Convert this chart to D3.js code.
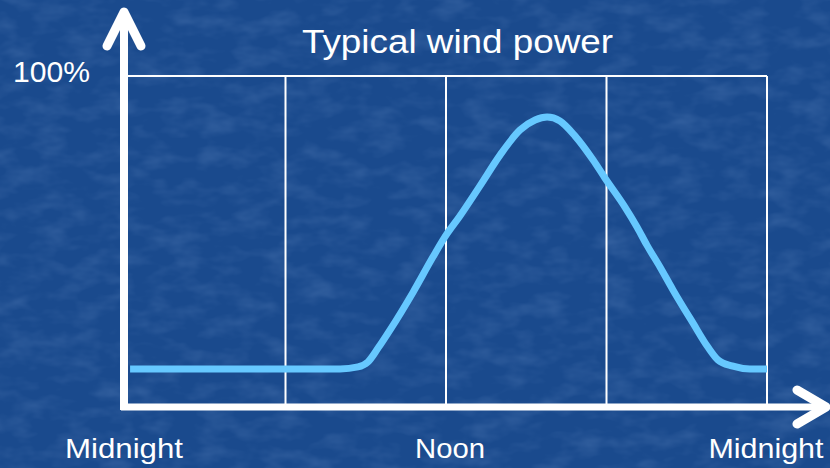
<!DOCTYPE html>
<html>
<head>
<meta charset="utf-8">
<script src="https://cdn.jsdelivr.net/npm/d3@7"></script>
<style>
  html, body { margin: 0; padding: 0; background: #1c4f96; }
  svg { display: block; font-family: 'Liberation Sans', Arial, sans-serif; }
</style>
</head>
<body>
<div id="chart"></div>
<script>
// hours since midnight and wind output in % of max
const hours = [0.19, 4.0, 8.04, 8.71, 9.08, 9.46, 9.91, 10.77, 11.51, 11.96, 12.52, 13.27, 14.02, 14.77, 15.33,
  15.78, 16.26, 16.82, 17.5, 17.94, 18.69, 19.14, 19.51, 20.0, 20.49, 21.23, 21.79, 22.17, 22.69, 23.36, 24.0]
const power = [11.5, 11.5, 11.5, 12.1, 13.6, 17.8, 23.3, 34.7, 45.3, 51.4, 57.7, 66.8, 76.1, 83.7, 86.7,
  87.6, 86.4, 81.9, 74.6, 69.2, 60.4, 54.4, 48.9, 42.3, 35.3, 25.4, 18.1, 14.2, 12.4, 11.5, 11.5]
const gridHours = [6, 12, 18, 24]
const timeLabels = [
  { h: 0, text: 'Midnight', len: 118, dx: -1 },
  { h: 12, text: 'Noon', len: 70, dx: 4 },
  { h: 24, text: 'Midnight', len: 115, dx: -1 }
]
const title = 'Typical wind power'
const topLabel = '100%'

const width = 830
const height = 468

const x = d3.scaleLinear().domain([0, 24]).range([125, 767])
const y = d3.scaleLinear().domain([0, 100]).range([407, 76])

const svg = d3.select('#chart').append('svg')
  .attr('width', width)
  .attr('height', height)

// mottled blue backdrop
const defs = svg.append('defs')
const tex = defs.append('filter').attr('id', 'tex')
  .attr('x', 0).attr('y', 0).attr('width', '100%').attr('height', '100%')
tex.append('feTurbulence')
  .attr('type', 'fractalNoise')
  .attr('baseFrequency', '0.03 0.06')
  .attr('numOctaves', 3)
  .attr('seed', 7)
tex.append('feColorMatrix')
  .attr('type', 'matrix')
  .attr('values', '0 0 0 0 0.5  0 0 0 0 0.68  0 0 0 0 1  0 0 0 1.2 -0.5')

svg.append('rect').attr('width', width).attr('height', height).attr('fill', '#1a4a8d')
svg.append('rect').attr('width', width).attr('height', height)
  .attr('filter', 'url(#tex)').attr('opacity', 0.22)

// box + vertical grid lines
svg.append('line')
  .attr('x1', x(0)).attr('x2', x(24))
  .attr('y1', y(100)).attr('y2', y(100))
  .attr('stroke', '#fff').attr('stroke-width', 2)

svg.append('g')
  .selectAll('line')
  .data(gridHours)
  .enter().append('line')
  .attr('x1', d => x(d)).attr('x2', d => x(d))
  .attr('y1', y(100)).attr('y2', y(0))
  .attr('stroke', '#fff')
  .attr('stroke-width', 2)

// the curve
const line = d3.line()
  .x((d, i) => x(hours[i]))
  .y(d => y(d))
  .curve(d3.curveMonotoneX)

svg.append('path')
  .datum(power)
  .attr('d', line)
  .attr('fill', 'none')
  .attr('stroke', '#66c8ff')
  .attr('stroke-width', 7)
  .attr('stroke-linejoin', 'round')

// axes with arrow heads
const x0 = x(0)
const yb = y(0)
const axis = svg.append('g')
  .attr('stroke', '#fff')
  .attr('fill', 'none')
  .attr('stroke-linecap', 'round')
  .attr('stroke-linejoin', 'round')

axis.append('line')
  .attr('x1', x0 - 1).attr('x2', x0 - 1)
  .attr('y1', yb + 3).attr('y2', 12)
  .attr('stroke-width', 8)
  .attr('stroke-linecap', 'butt')
axis.append('polyline')
  .attr('points', [[x0 - 18, 46], [x0 - 1, 12], [x0 + 16, 46]].join(' '))
  .attr('stroke-width', 9)

axis.append('line')
  .attr('x1', x0 - 4).attr('x2', 826)
  .attr('y1', yb).attr('y2', yb)
  .attr('stroke-width', 7)
  .attr('stroke-linecap', 'butt')
axis.append('polyline')
  .attr('points', [[797, yb - 17], [826, yb], [797, yb + 17]].join(' '))
  .attr('stroke-width', 9)

// texts
svg.append('text')
  .attr('x', 457.5)
  .attr('y', 53)
  .attr('text-anchor', 'middle')
  .attr('fill', '#fff')
  .attr('font-size', 34)
  .attr('textLength', 311)
  .attr('lengthAdjust', 'spacingAndGlyphs')
  .text(title)

svg.append('text')
  .attr('x', x0 - 35)
  .attr('y', y(100) + 6)
  .attr('text-anchor', 'end')
  .attr('fill', '#fff')
  .attr('font-size', 30)
  .attr('textLength', 77)
  .attr('lengthAdjust', 'spacingAndGlyphs')
  .text(topLabel)

svg.append('g')
  .selectAll('text')
  .data(timeLabels)
  .enter().append('text')
  .attr('x', d => x(d.h) + d.dx)
  .attr('y', 458)
  .attr('text-anchor', 'middle')
  .attr('fill', '#fff')
  .attr('font-size', 28)
  .attr('textLength', d => d.len)
  .attr('lengthAdjust', 'spacingAndGlyphs')
  .text(d => d.text)
</script>
</body>
</html>
